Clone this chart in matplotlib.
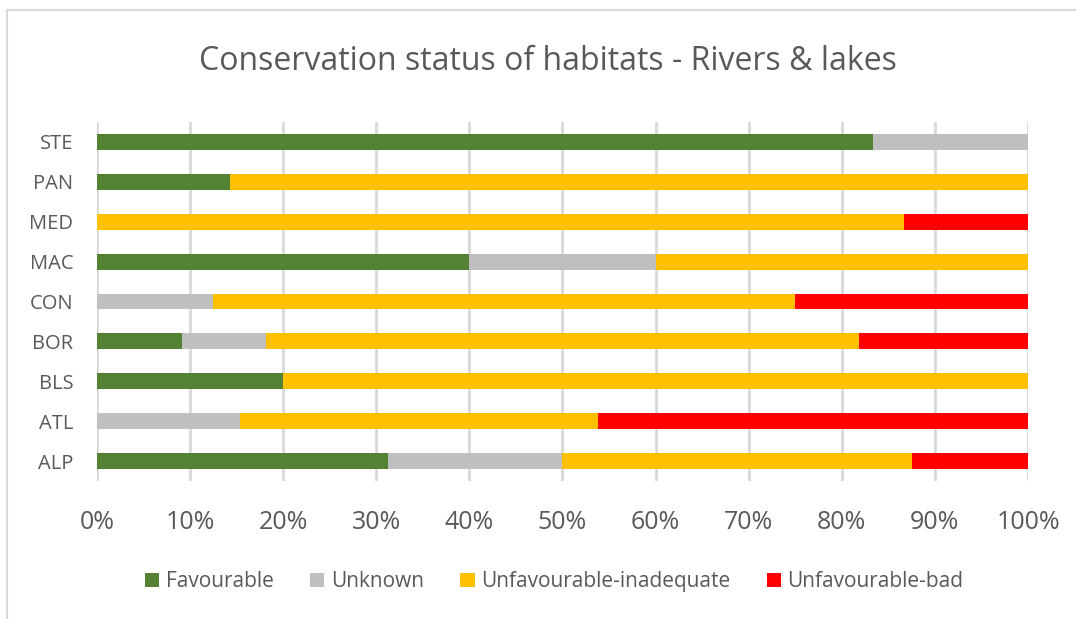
"""Stacked horizontal bars: conservation status of river & lake habitats by region."""
import numpy as np
import matplotlib
matplotlib.use("Agg")
import matplotlib.pyplot as plt
from matplotlib.lines import Line2D

regions = ["ALP", "ATL", "BLS", "BOR", "CON", "MAC", "MED", "PAN", "STE"]
favourable = [31.25, 0.0, 20.0, 9.09, 0.0, 40.0, 0.0, 14.29, 83.33]
unknown = [18.75, 15.38, 0.0, 9.09, 12.5, 20.0, 0.0, 0.0, 16.67]
inadequate = [37.5, 38.46, 80.0, 63.64, 62.5, 40.0, 86.67, 85.71, 0.0]
bad = [12.5, 46.15, 0.0, 18.18, 25.0, 0.0, 13.33, 0.0, 0.0]

series = [
    ("Favourable", favourable, "#548235"),
    ("Unknown", unknown, "#bfbfbf"),
    ("Unfavourable-inadequate", inadequate, "#ffc000"),
    ("Unfavourable-bad", bad, "#ff0000"),
]

TEXT = "#595959"
plt.rcParams["font.family"] = ["Open Sans", "DejaVu Sans"]

fig = plt.figure(figsize=(10.76, 6.19), dpi=100)
ax = fig.add_axes([0.0901, 0.2229, 0.8653, 0.58])

y = np.arange(len(regions))
left = np.zeros(len(regions))
for name, vals, col in series:
    vals = np.array(vals)
    ax.barh(y, vals, left=left, height=0.4, color=col, label=name, zorder=3)
    left += vals

ax.set_xlim(0, 100)
ax.set_ylim(-0.5, len(regions) - 0.5)
ax.set_xticks(np.arange(0, 101, 10))
ax.set_xticklabels([f"{v}%" for v in range(0, 101, 10)])
ax.set_yticks(y)
ax.set_yticklabels(regions)
ax.grid(axis="x", color="#d9d9d9", lw=2, zorder=0)
for s in ax.spines.values():
    s.set_visible(False)
ax.tick_params(axis="x", length=0, pad=21, labelsize=18, labelcolor=TEXT)
ax.tick_params(axis="y", length=0, pad=17, labelsize=14.5, labelcolor=TEXT)

fig.text(0.509, 0.9, "Conservation status of habitats - Rivers & lakes",
         ha="center", va="center", fontsize=23, color=TEXT)

fig.legend(loc="center", bbox_to_anchor=(0.515, 0.06), ncol=4, frameon=False,
           fontsize=15, handlelength=0.7, handleheight=0.7, handletextpad=0.3,
           columnspacing=1.75, labelcolor=TEXT)

# chart frame (top and left edges)
fig.add_artist(Line2D([7 / 1076, 1], [1 - 10 / 619, 1 - 10 / 619],
                      transform=fig.transFigure, color="#d9d9d9", lw=1.5))
fig.add_artist(Line2D([7 / 1076, 7 / 1076], [0, 1 - 10 / 619],
                      transform=fig.transFigure, color="#d9d9d9", lw=1.5))

fig.savefig("out.png", dpi=100)
